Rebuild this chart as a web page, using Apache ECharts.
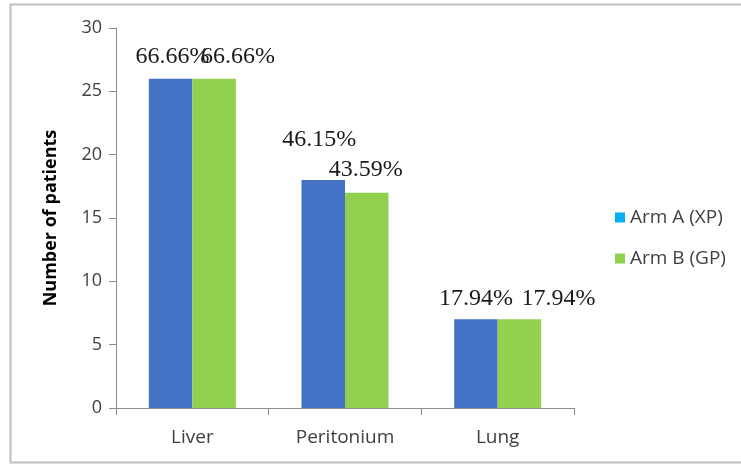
<!DOCTYPE html>
<html>
<head>
<meta charset="utf-8">
<script src="https://cdn.jsdelivr.net/npm/echarts@6/dist/echarts.min.js"></script>
<style>
  html, body { margin: 0; padding: 0; background: #fff; }
  #chart { width: 741px; height: 465px; }
</style>
</head>
<body>
<div id="chart"></div>
<script>
// Metastatic sites by treatment arm
const categories = ['Liver', 'Peritonium', 'Lung'];
const armA = [26, 18, 7];
const armB = [26, 17, 7];
const armAPct = ['66.66%', '46.15%', '17.94%'];
const armBPct = ['66.66%', '43.59%', '17.94%'];
const yTicks = [0, 5, 10, 15, 20, 25, 30];

// label nudges [dx, dy] so neighbouring percentages stay readable
const armAShift = [[2, -5], [-4, -23], [0, -4]];
const armBShift = [[24, -5], [-1, -6], [39, -4]];

const serifLabel = {
  show: true,
  position: 'top',
  distance: 5,
  fontFamily: 'Liberation Serif',
  fontSize: 24,
  color: '#1a1a1a'
};

function buildData(values, pcts, shifts) {
  return values.map((v, i) => ({
    value: v,
    label: Object.assign({}, serifLabel, {
      formatter: pcts[i],
      offset: shifts[i]
    })
  }));
}

const chart = echarts.init(document.getElementById('chart'), null, { renderer: 'canvas' });

chart.setOption({
  animation: false,
  backgroundColor: '#ffffff',
  graphic: [{
    type: 'rect',
    shape: { x: 10.5, y: 4.5, width: 760, height: 458 },
    style: { fill: 'none', stroke: '#bdbdbd', lineWidth: 2 },
    silent: true
  }],
  grid: { left: 116, right: 167, top: 28, bottom: 57 },
  legend: {
    orient: 'vertical',
    left: 610,
    top: 203,
    itemWidth: 10,
    itemHeight: 10,
    itemGap: 22,
    icon: 'rect',
    textStyle: { fontFamily: 'Open Sans', fontSize: 19, color: '#404040' },
    data: [
      { name: 'Arm A (XP)', itemStyle: { color: '#00B0F0' } },
      { name: 'Arm B (GP)', itemStyle: { color: '#92D050' } }
    ]
  },
  xAxis: {
    type: 'category',
    data: categories,
    axisLine: { lineStyle: { color: '#8c8c8c', width: 1 } },
    axisTick: { show: true, length: 7, alignWithLabel: false, lineStyle: { color: '#8c8c8c' } },
    axisLabel: { margin: 20, fontFamily: 'Open Sans', fontSize: 19, color: '#404040' }
  },
  yAxis: {
    type: 'value',
    min: yTicks[0],
    max: yTicks[yTicks.length - 1],
    interval: 5,
    name: 'Number of patients',
    nameLocation: 'middle',
    nameGap: 56,
    nameRotate: 90,
    nameTextStyle: { fontFamily: 'Open Sans', fontWeight: 'bold', fontSize: 18, color: '#000' },
    axisLine: { show: true, lineStyle: { color: '#8c8c8c', width: 1 } },
    axisTick: { show: true, length: 7, lineStyle: { color: '#8c8c8c' } },
    axisLabel: { margin: 14, fontFamily: 'Open Sans', fontSize: 18, color: '#404040' },
    splitLine: { show: false }
  },
  series: [
    {
      name: 'Arm A (XP)',
      type: 'bar',
      barGap: '0%',
      barCategoryGap: '43%',
      itemStyle: { color: '#4472C4' },
      data: buildData(armA, armAPct, armAShift)
    },
    {
      name: 'Arm B (GP)',
      type: 'bar',
      barGap: '0%',
      barCategoryGap: '43%',
      itemStyle: { color: '#92D050' },
      data: buildData(armB, armBPct, armBShift)
    }
  ]
});
</script>
</body>
</html>
